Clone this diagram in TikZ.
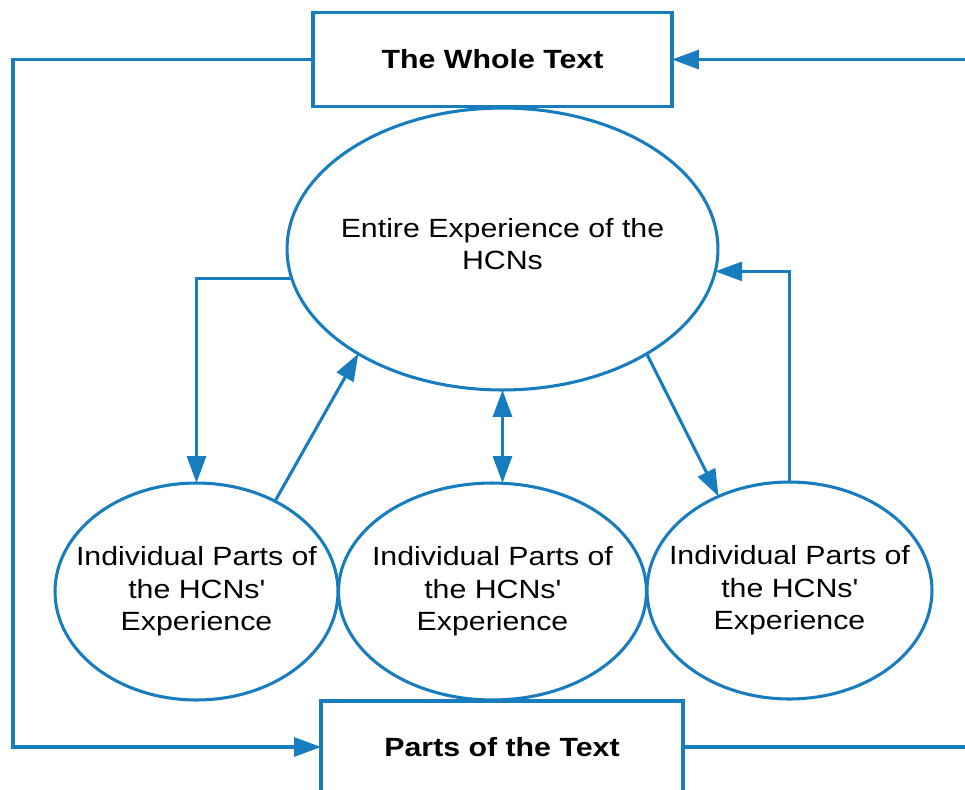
\documentclass[tikz,border=0pt]{standalone}
\usepackage{fontspec}
\setmainfont[FakeStretch=1.15]{Liberation Sans}
\usetikzlibrary{shapes.geometric,arrows.meta}
\definecolor{flowblue}{RGB}{24,125,190}
\begin{document}
\begin{tikzpicture}
      [x=0.02cm, y=-0.02cm,
      textbox/.style={draw=flowblue, line width=1.75pt, fill=white, outer sep=0pt,
        font=\fontsize{15}{18.5}\selectfont\bfseries},
      bigexp/.style={ellipse, draw=flowblue, line width=1.75pt, outer sep=0pt,
        inner xsep=-3cm, inner ysep=0pt, text depth=0.2cm,
        minimum width=8.62cm, minimum height=5.64cm, align=center,
        font=\fontsize{15}{18.5}\selectfont},
      partexp/.style={ellipse, draw=flowblue, line width=1.75pt, outer sep=0pt,
        inner xsep=-3cm, inner ysep=0pt,
        minimum width=5.66cm, minimum height=4.34cm, align=center,
        font=\fontsize{15}{18.5}\selectfont},
      flow/.style={draw=flowblue, line width=1.75pt, -{Triangle[length=0.54cm, width=0.38cm]}},
      both/.style={draw=flowblue, line width=1.75pt,
        {Triangle[length=0.54cm, width=0.38cm]}-{Triangle[length=0.54cm, width=0.38cm]}}]
      \useasboundingbox (0,0) rectangle (965,789);
      \node[textbox, minimum width=7.18cm, minimum height=1.88cm] (whole) at (492.5,59.5) {The Whole Text};
      \node[textbox, minimum width=7.24cm, minimum height=1.84cm] (parts) at (502,747) {Parts of the Text};
      \node[bigexp] (entire) at (502.5,249) {Entire Experience of the\\HCNs};
      \node[partexp] (leftexp) at (196.5,591.5) {Individual Parts of\\the HCNs\textquotesingle\\Experience};
      \node[partexp, minimum width=6.16cm] (midexp) at (492.5,591.5) {Individual Parts of\\the HCNs\textquotesingle\\Experience};
      \node[partexp, minimum width=5.7cm] (rightexp) at (789.5,590.5) {Individual Parts of\\the HCNs\textquotesingle\\Experience};
      \coordinate (ltop) at (13,59.5);
      \coordinate (lbot) at (13,747);
      \coordinate (rtop) at (972,59.5);
      \coordinate (rbot) at (972,747);
      \draw[flow] (whole.west) -- (ltop) -- (lbot) -- (parts.west);
      \draw[flow] (parts.east) -- (rbot) -- (rtop) -- (whole.east);
      \draw[flow] (entire.188) -| (leftexp.north);
      \draw[flow] (leftexp.49) -- (entire.216);
      \draw[both] (entire.south) -- (entire.south |- midexp.north);
      \draw[flow] (entire.-36) -- (rightexp.127);
      \draw[flow] (rightexp.north) |- (entire.-6);
\end{tikzpicture}
\end{document}
